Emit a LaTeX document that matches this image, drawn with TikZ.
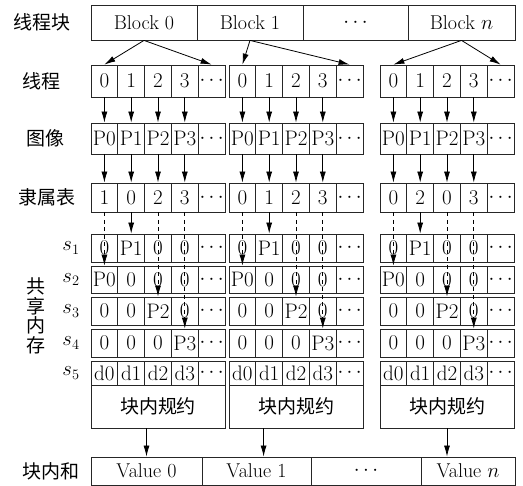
\documentclass[tikz,border=0pt]{standalone}
\usepackage{fontspec}
\newfontfamily\cjk{Noto Sans CJK SC}
\usetikzlibrary{arrows.meta,calc}
\begin{document}
\begin{tikzpicture}[x=1pt,y=-1pt,
  txt/.style={font=\fontsize{20}{21}\selectfont},
  box/.style={draw=black!85, line width=0.8pt, inner sep=0pt, txt},
  cell/.style={box, minimum width=26.8pt, font=\fontsize{21}{22}\selectfont},
  arr/.style={-{Latex[length=11pt,width=6pt]}, line width=0.8pt, black},
  darr/.style={arr, dash pattern=on 4pt off 3.5pt},
  lab/.style={font=\cjk\fontsize{19}{19.5}\selectfont, inner sep=0pt, align=center}]
\useasboundingbox (0,0) rectangle (523,486);

% top row
\node[box, minimum width=106pt, minimum height=35pt] (b0) at (144,22.5) {Block 0};
\node[box, minimum width=106pt, minimum height=35pt] (b1) at (250,22.5) {Block 1};
\node[box, minimum width=105pt, minimum height=35pt] (bd) at (355.5,22.5) {$\cdots$};
\node[box, minimum width=107pt, minimum height=35pt] (bn) at (461.5,22.5) {Block $n$};

% labels
\node[lab] (l1) at (42,22) {线程块};
\node[lab] (l2) at (42,81) {线程};
\node[lab] (l3) at (46,138.5) {图像};
\node[lab] (l4) at (47,197.5) {隶属表};
\node[lab] (l5) at (36,316) {共\\享\\内\\存};
\node[lab] (l6) at (51,471) {块内和};
\node[txt, inner sep=0pt] (sl1) at (71,248) {$s_1$};
\node[txt, inner sep=0pt] (sl2) at (71,279.5) {$s_2$};
\node[txt, inner sep=0pt] (sl3) at (71,311) {$s_3$};
\node[txt, inner sep=0pt] (sl4) at (71,343) {$s_4$};
\node[txt, inner sep=0pt] (sl5) at (71,373) {$s_5$};

% groups
\foreach \g/\gx/\a/\b/\c/\d in {0/91/1/0/2/3, 1/229/0/1/2/3, n/380/0/2/0/3} {
  \foreach \i/\t in {0/0,1/1,2/2,3/3,4/$\cdots$}
    \node[cell, minimum height=32pt] (thr-\g-\i) at (\gx+13.4+26.8*\i, 81) {\t};
  \foreach \i/\t in {0/P0,1/P1,2/P2,3/P3,4/$\cdots$}
    \node[cell, minimum height=31pt] (img-\g-\i) at (\gx+13.4+26.8*\i, 138.5) {\t};
  \foreach \i/\t in {0/\a,1/\b,2/\c,3/\d,4/$\cdots$}
    \node[cell, minimum height=29pt] (aff-\g-\i) at (\gx+13.4+26.8*\i, 197.5) {\t};
  \foreach \r/\yc/\hh/\ta/\tb/\tc/\td in {1/248/28/0/P1/0/0, 2/279.5/27/P0/0/0/0, 3/311/28/0/0/P2/0, 4/343/28/0/0/0/P3, 5/373/24/d0/d1/d2/d3} {
    \foreach \i/\t in {0/\ta,1/\tb,2/\tc,3/\td,4/$\cdots$}
      \node[cell, minimum height=\hh pt] (s\r-\g-\i) at (\gx+13.4+26.8*\i, \yc) {\t};
  }
  \node[box, minimum width=134pt, minimum height=43pt, font=\cjk\fontsize{19}{19}\selectfont] (red-\g) at (\gx+67, 406.5) {块内规约};
  \foreach \i in {0,1,2,3} {
    \draw[arr] (thr-\g-\i.south) -- (img-\g-\i.north);
    \draw[arr] (img-\g-\i.south) -- (aff-\g-\i.north);
  }
  \draw[arr] (aff-\g-1.south) -- (s1-\g-1.north);
  \draw[darr] (aff-\g-0.south) -- (s2-\g-0.north);
  \draw[darr] (aff-\g-2.south) -- (s3-\g-2.north);
  \draw[darr] (aff-\g-3.south) -- (s4-\g-3.north);
}

% block arrows
\draw[arr] (b0.south) -- (thr-0-0.north);
\draw[arr] (b0.south) -- (thr-0-4.north);
\draw[arr] (b1.south) -- (thr-1-0.north);
\draw[arr] (b1.south) -- (thr-1-4.north);
\draw[arr] (bn.south) -- (thr-n-0.north);
\draw[arr] (bn.south) -- (thr-n-4.north);

% value row
\node[box, minimum width=111pt, minimum height=28pt] (val0) at (146.5,471) {Value 0};
\node[box, minimum width=109pt, minimum height=28pt] (val1) at (256.5,471) {Value 1};
\node[box, minimum width=110pt, minimum height=28pt] (vald) at (366,471) {$\cdots$};
\node[box, minimum width=94pt, minimum height=28pt] (valn) at (468,471) {Value $n$};

\draw[arr] (red-0.south -| val0.north) -- (val0.north);
\draw[arr] ([xshift=35pt]red-1.south west) -- ([xshift=35pt]red-1.south west |- val1.north);
\draw[arr] (red-n.south) -- (red-n.south |- valn.north);
\end{tikzpicture}
\end{document}
